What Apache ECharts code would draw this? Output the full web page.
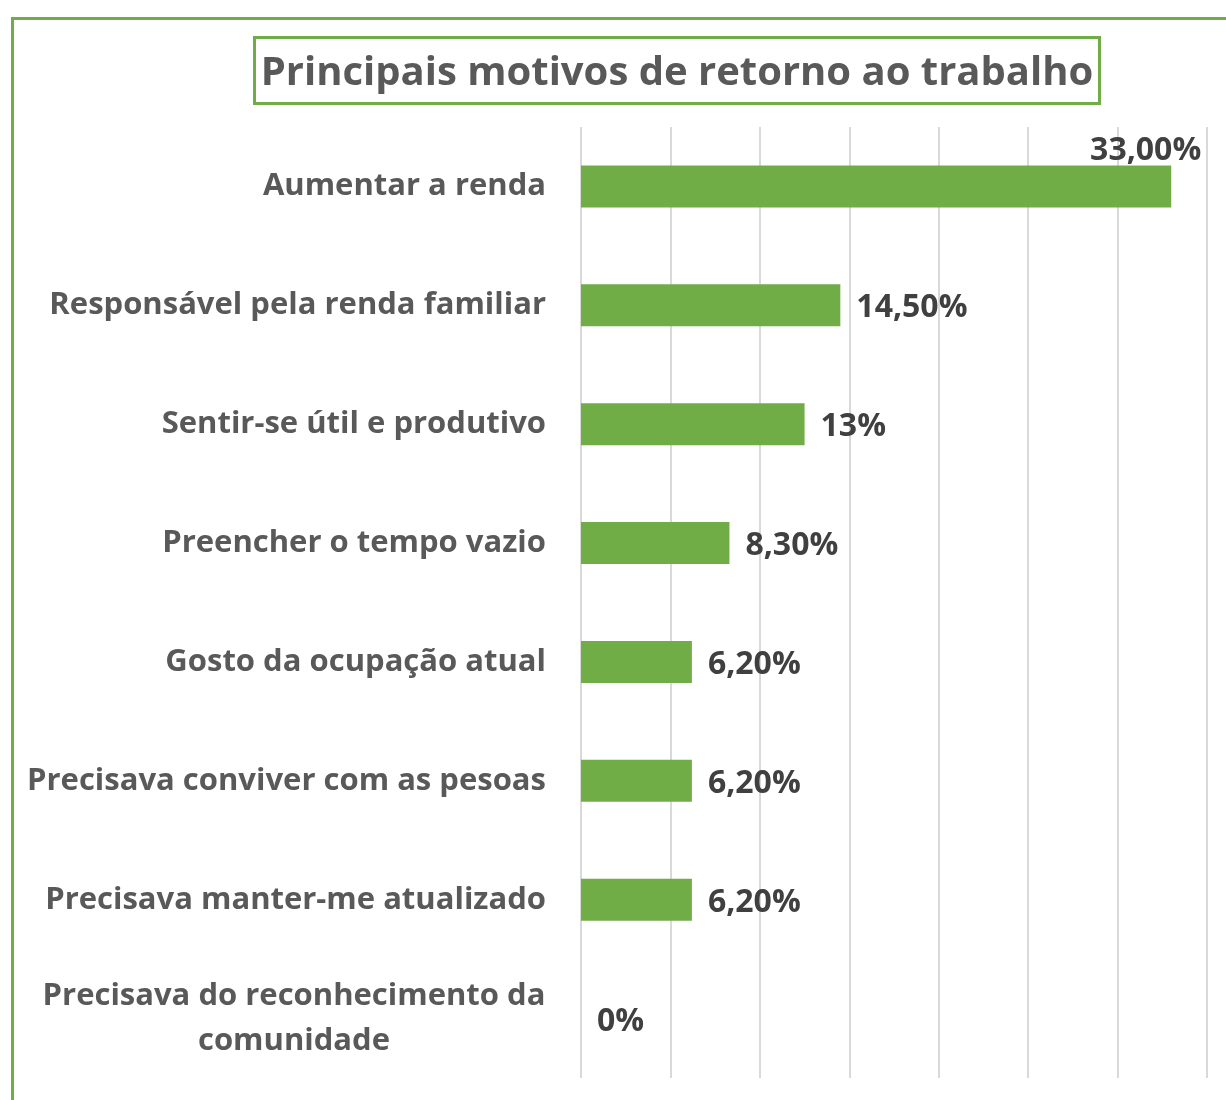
<!DOCTYPE html>
<html>
<head>
<meta charset="utf-8">
<title>Principais motivos de retorno ao trabalho</title>
<script src="https://cdn.jsdelivr.net/npm/echarts@6/dist/echarts.min.js"></script>
<style>
    html, body { margin: 0; padding: 0; background: #fff; }
    #chart { width: 1226px; height: 1100px; }
</style>
</head>
<body>
<div id="chart"></div>
<script>
// dados
var categorias = [
    'Aumentar a renda',
    'Responsável pela renda familiar',
    'Sentir-se útil e produtivo',
    'Preencher o tempo vazio',
    'Gosto da ocupação atual',
    'Precisava conviver com as pesoas',
    'Precisava manter-me atualizado',
    'Precisava do reconhecimento da\ncomunidade'
];
var valores = [33, 14.5, 12.5, 8.3, 6.2, 6.2, 6.2, 0];
var rotulos = ['33,00%', '14,50%', '13%', '8,30%', '6,20%', '6,20%', '6,20%', '0%'];

var verde = '#70AD47';
var fonte = 'Open Sans';

var chart = echarts.init(document.getElementById('chart'));

var yData = categorias.map(function (c, i) {
    if (i === categorias.length - 1) {
        // rótulo em duas linhas, centralizado como no original
        return { value: c, textStyle: { align: 'center', padding: [5, 504, 0, 0] } };
    }
    return c;
});

var barData = valores.map(function (v, i) {
    var item = { value: v };
    if (i === 0) {
        item.label = {
            position: ['100%', 0],
            align: 'right',
            verticalAlign: 'bottom',
            offset: [30, 1]
        };
    }
    return item;
});

var option = {
    backgroundColor: '#fff',
    animation: false,
    title: {
        text: 'Principais motivos de retorno ao trabalho',
        left: 671,
        textAlign: 'center',
        top: 37,
        padding: [15, 6, 8, 6],
        borderColor: verde,
        borderWidth: 3,
        textStyle: {
            fontFamily: fonte,
            fontSize: 40,
            fontWeight: 'bold',
            color: '#595959',
            lineHeight: 44
        }
    },
    graphic: [{
        type: 'rect',
        left: 10,
        top: 16,
        shape: { width: 1400, height: 1300 },
        style: { fill: 'none', stroke: verde, lineWidth: 3 },
        silent: true
    }],
    grid: {
        left: 581,
        right: 19,
        top: 127,
        bottom: 22,
        containLabel: false
    },
    xAxis: {
        type: 'value',
        min: 0,
        max: 35,
        interval: 5,
        axisLabel: { show: false },
        axisLine: { show: false },
        axisTick: { show: false },
        splitLine: { lineStyle: { color: '#d9d9d9', width: 2 } }
    },
    yAxis: {
        type: 'category',
        inverse: true,
        data: yData,
        axisLine: { show: false },
        axisTick: { show: false },
        axisLabel: {
            margin: 35,
            fontFamily: fonte,
            fontSize: 31,
            fontWeight: 'bold',
            color: '#595959',
            lineHeight: 45,
            padding: [5, 0, 0, 0]
        }
    },
    series: [{
        type: 'bar',
        data: barData,
        barWidth: 42,
        itemStyle: { color: verde },
        label: {
            show: true,
            position: 'right',
            distance: 16,
            offset: [0, 3],
            fontFamily: fonte,
            fontSize: 32,
            fontWeight: 'bold',
            color: '#404040',
            formatter: function (p) { return rotulos[p.dataIndex]; }
        }
    }]
};

chart.setOption(option);
</script>
</body>
</html>
